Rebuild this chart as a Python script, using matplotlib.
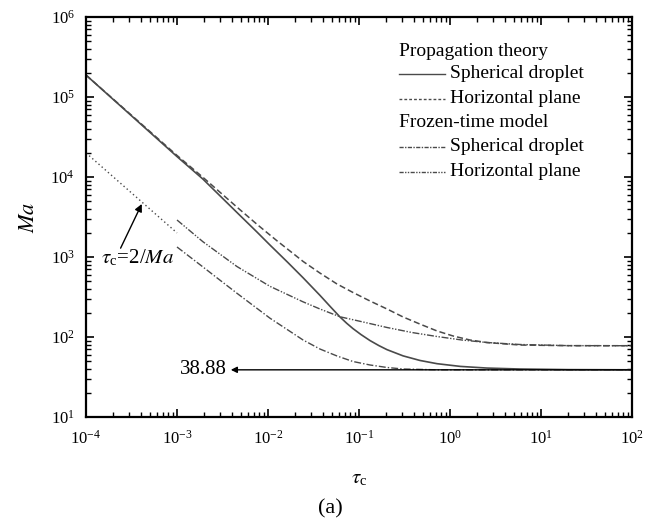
import matplotlib
matplotlib.use("Agg")
import matplotlib.pyplot as plt
from matplotlib.lines import Line2D
from matplotlib.ticker import LogLocator, NullFormatter

plt.rcParams["font.family"] = ["Liberation Serif", "DejaVu Serif"]
plt.rcParams["mathtext.fontset"] = "stix"

# propagation theory, spherical droplet
tau_prop_sph = [1e-4, 1e-3, 1.93e-3, 4.56e-3, 7.57e-3, 1.05e-2, 1.65e-2, 2.43e-2,
                3.72e-2, 4.9e-2, 6.18e-2, 7.3e-2, 8.59e-2, 0.105, 0.132, 0.165,
                0.203, 0.305, 0.468, 0.72, 1.3, 2.55, 5.87, 20, 100]
ma_prop_sph = [1.88e5, 1.8e4, 9400, 3600, 2050, 1413, 855, 550,
               332, 236, 178, 149, 127.3, 107.4, 90.3, 78.2,
               69.5, 58.1, 50.9, 46.4, 42.9, 40.9, 39.8, 39.1, 38.9]

# propagation theory, horizontal plane
tau_prop_hor = [1e-4, 1e-3, 1.93e-3, 4.56e-3, 7.76e-3, 1.25e-2, 1.88e-2, 2.43e-2,
                3.72e-2, 5.73e-2, 8.59e-2, 0.132, 0.203, 0.305, 0.468, 0.72, 1.08,
                1.66, 2.55, 5.87, 20, 100]
ma_prop_hor = [1.88e5, 1.86e4, 9900, 4200, 2500, 1600, 1110, 880,
               630, 460, 360, 282, 224, 178, 145, 119, 103,
               91.7, 85.3, 79.4, 77.9, 77.8]

# frozen-time model, spherical droplet
tau_froz_sph = [1e-3, 1.93e-3, 2.97e-3, 4.56e-3, 1.05e-2, 2.43e-2, 3.72e-2, 5.73e-2,
                8.59e-2, 0.132, 0.203, 0.305, 0.72, 100]
ma_froz_sph = [1334, 750, 513, 352, 172, 91.7, 70.8, 57.9,
               49.4, 44.7, 41.6, 39.8, 38.9, 38.88]

# frozen-time model, horizontal plane
tau_froz_hor = [1e-3, 1.93e-3, 4.56e-3, 1.05e-2, 2.43e-2, 3.72e-2, 6.18e-2, 0.111,
                0.203, 0.382, 0.72, 1.355, 2.55, 5.87, 20, 100]
ma_froz_hor = [2900, 1550, 760, 430, 275, 224, 179, 154,
               131.5, 113.8, 101.4, 91.7, 85.3, 80.6, 78.0, 77.8]

# tau_c = 2/Ma reference line
tau_ref = [1e-4, 1e-3]
ma_ref = [2e4, 2e3]

ma_limit = 38.88

x_ticks = [1e-4, 1e-3, 1e-2, 1e-1, 1e0, 1e1, 1e2]
y_ticks = [1e1, 1e2, 1e3, 1e4, 1e5, 1e6]

fig = plt.figure(figsize=(6.55, 5.21), dpi=100)
ax = fig.add_axes([0.1313, 0.1996, 0.8336, 0.7678])

gray = "#4a4a4a"
ax.plot(tau_prop_sph, ma_prop_sph, "-", color=gray, lw=1.2)
ax.plot(tau_prop_hor, ma_prop_hor, color=gray, lw=1.1, dashes=(4, 2))
ax.plot(tau_froz_sph, ma_froz_sph, color=gray, lw=1.0, dashes=(5, 1.5, 1, 1.5))
ax.plot(tau_froz_hor, ma_froz_hor, color=gray, lw=1.0, dashes=(5, 1.2, 1, 1.2, 1, 1.2))
ax.plot(tau_ref, ma_ref, color=gray, lw=1.0, dashes=(1, 2))

ax.set_xscale("log")
ax.set_yscale("log")
ax.set_xticks(x_ticks)
ax.set_yticks(y_ticks)
ax.set_xlim(1e-4, 1e2)
ax.set_ylim(1e1, 1e6)

for axis in (ax.xaxis, ax.yaxis):
    axis.set_minor_locator(LogLocator(base=10, subs=range(2, 10), numticks=20))
    axis.set_minor_formatter(NullFormatter())

ax.tick_params(which="both", direction="in", top=True, right=True, labelsize=12)
ax.tick_params(which="major", length=6, width=1.2)
ax.tick_params(which="minor", length=3.5, width=1.0)
ax.tick_params(axis="x", which="major", pad=9)
ax.tick_params(axis="y", which="major", pad=8)
for s in ax.spines.values():
    s.set_linewidth(1.6)

ax.set_xlabel(r"$\tau_\mathregular{c}$", fontsize=15, labelpad=16)
ax.set_ylabel(r"$Ma$", fontsize=16, labelpad=8)

# 38.88 arrow
ax.annotate("", xy=(3.9e-3, ma_limit), xytext=(1e2, ma_limit),
            arrowprops=dict(arrowstyle="-|>", color="k", lw=1.0, mutation_scale=9,
                            shrinkA=0, shrinkB=0))
ax.text(3.5e-3, ma_limit, "38.88", ha="right", va="center", fontsize=15)

# tau_c = 2/Ma arrow
ax.annotate("", xy=(4.1e-4, 4600), xytext=(2.4e-4, 1290),
            arrowprops=dict(arrowstyle="-|>", color="k", lw=1.0, mutation_scale=11,
                            shrinkA=0, shrinkB=0))
ax.text(1.45e-4, 960, r"$\tau_\mathregular{c}$=2/$Ma$", ha="left", va="center", fontsize=15)

# legend drawn by hand
x0, x1, xt = 0.573, 0.658, 0.667
rows = [0.9125, 0.8575, 0.795, 0.735, 0.675, 0.6125]
ax.text(x0, rows[0], "Propagation theory", transform=ax.transAxes, va="center", fontsize=14)
ax.text(x0, rows[3], "Frozen-time model", transform=ax.transAxes, va="center", fontsize=14)
styles = [dict(ls="-"), dict(dashes=(2, 1.5)), dict(dashes=(3, 1, 1, 1)),
          dict(dashes=(3, 1, 1, 1, 1, 1))]
labels = ["Spherical droplet", "Horizontal plane", "Spherical droplet", "Horizontal plane"]
for y, st, lab in zip([rows[1], rows[2], rows[4], rows[5]], styles, labels):
    ax.add_line(Line2D([x0, x1], [y, y], transform=ax.transAxes, color=gray, lw=1.0, **st))
    ax.text(xt, y, lab, transform=ax.transAxes, va="center", fontsize=14)

fig.text(0.505, 0.024, "(a)", ha="center", va="center", fontsize=16)

fig.savefig("out.png", dpi=100)
